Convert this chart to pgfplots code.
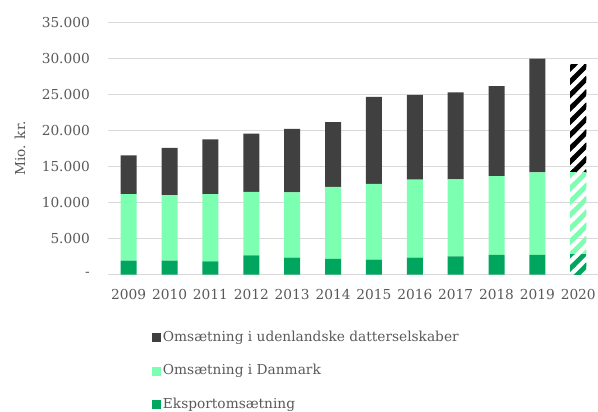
\documentclass[border=0pt]{standalone}
\usepackage{fontspec}
\setmainfont{DejaVu Serif}
\usepackage{pgfplots}
\usepackage{pgfplotstable}
\pgfplotsset{compat=1.18}
\usetikzlibrary{patterns}

\definecolor{udl}{HTML}{404040}
\definecolor{dk}{HTML}{7CFFB0}
\definecolor{eks}{HTML}{00A65D}
\definecolor{gridc}{HTML}{D9D9D9}
\definecolor{txt}{HTML}{595959}

% thick diagonal stripes for the 2020 estimate
\pgfdeclarepatternformonly{wide ne}{\pgfqpoint{-1pt}{-1pt}}{\pgfqpoint{11pt}{11pt}}{\pgfqpoint{10pt}{10pt}}{
  \pgfsetlinewidth{3.6pt}
  \pgfpathmoveto{\pgfqpoint{-1pt}{-1pt}}\pgfpathlineto{\pgfqpoint{11pt}{11pt}}
  \pgfpathmoveto{\pgfqpoint{-1pt}{9pt}}\pgfpathlineto{\pgfqpoint{1pt}{11pt}}
  \pgfpathmoveto{\pgfqpoint{9pt}{-1pt}}\pgfpathlineto{\pgfqpoint{11pt}{1pt}}
  \pgfusepath{stroke}
}

% 2009-2019, actual figures
\pgfplotstableread{
x  eks   dk     udl
0  1950  9220   5410
1  1940  9090   6570
2  1860  9310   7630
3  2690  8800   8090
4  2360  9080   8800
5  2180  10000  8990
6  2080  10520  12080
7  2360  10830  11770
8  2550  10700  12080
9  2740  10930  12530
10 2740  11480  15780
11 0     0      0
}\solid
% 2020, estimate
\pgfplotstableread{
x  eks   dk     udl
0  0     0      0
1  0     0      0
2  0     0      0
3  0     0      0
4  0     0      0
5  0     0      0
6  0     0      0
7  0     0      0
8  0     0      0
9  0     0      0
10 0     0      0
11 2750  11420  15030
}\hatched

\begin{document}
\begin{tikzpicture}
\begin{axis}[
  width=367.8pt, height=189pt, scale only axis,
  ybar stacked, bar width=12pt,
  xmin=-0.5, xmax=11.5, ymin=0, ymax=35000,
  xtick={0,1,2,3,4,5,6,7,8,9,10,11},
  xticklabels={2009,2010,2011,2012,2013,2014,2015,2016,2017,2018,2019,2020},
  ytick={0,5000,10000,15000,20000,25000,30000,35000},
  yticklabels={-\hspace{0.6em},5.000,10.000,15.000,20.000,25.000,30.000,35.000},
  scaled y ticks=false,
  ymajorgrids,
  grid style={gridc, line width=0.75pt},
  axis x line*=bottom, axis y line*=left,
  x axis line style={gridc, line width=0.75pt, -},
  y axis line style={draw=none},
  major tick length=0pt,
  tick label style={txt, font=\fontsize{10.3}{12}\selectfont},
  xticklabel style={yshift=-7.3pt},
  yticklabel style={xshift=-10.3pt},
  ylabel={Mio. kr.},
  every axis y label/.style={at={(axis description cs:-0.18,0.5)}, rotate=90, anchor=center, txt, font=\fontsize{10.3}{12}\selectfont},
  reverse legend,
  legend style={at={(axis description cs:0.0884,-0.222)}, anchor=north west,
    draw=none, fill=none, inner sep=0pt, row sep=14.5pt,
    font=\fontsize{10.3}{12}\selectfont, text=txt,
    nodes={inner xsep=1.5pt, inner ysep=0pt, text height=8pt, text depth=2.5pt}},
  legend cell align=left,
  legend image code/.code={\fill[#1] (0pt,-3.4pt) rectangle (6.8pt,3.4pt);},
]
\addplot[draw=none, fill=eks] table[x=x, y=eks] {\solid};
\addplot[draw=none, pattern=wide ne, pattern color=eks, forget plot] table[x=x, y=eks] {\hatched};
\addplot[draw=none, fill=dk] table[x=x, y=dk] {\solid};
\addplot[draw=none, pattern=wide ne, pattern color=dk, forget plot] table[x=x, y=dk] {\hatched};
\addplot[draw=none, fill=udl] table[x=x, y=udl] {\solid};
\addplot[draw=none, pattern=wide ne, pattern color=black, forget plot] table[x=x, y=udl] {\hatched};
\legend{Eksportomsætning, Omsætning i Danmark, Omsætning i udenlandske datterselskaber}
\coordinate (SW) at (rel axis cs:0,0);
\coordinate (NE) at (rel axis cs:1,1);
\end{axis}
\pgfresetboundingbox
\path[use as bounding box] ([xshift=-81.2pt,yshift=-103pt]SW) rectangle ([xshift=-0.5pt,yshift=17pt]NE);
\end{tikzpicture}
\end{document}
